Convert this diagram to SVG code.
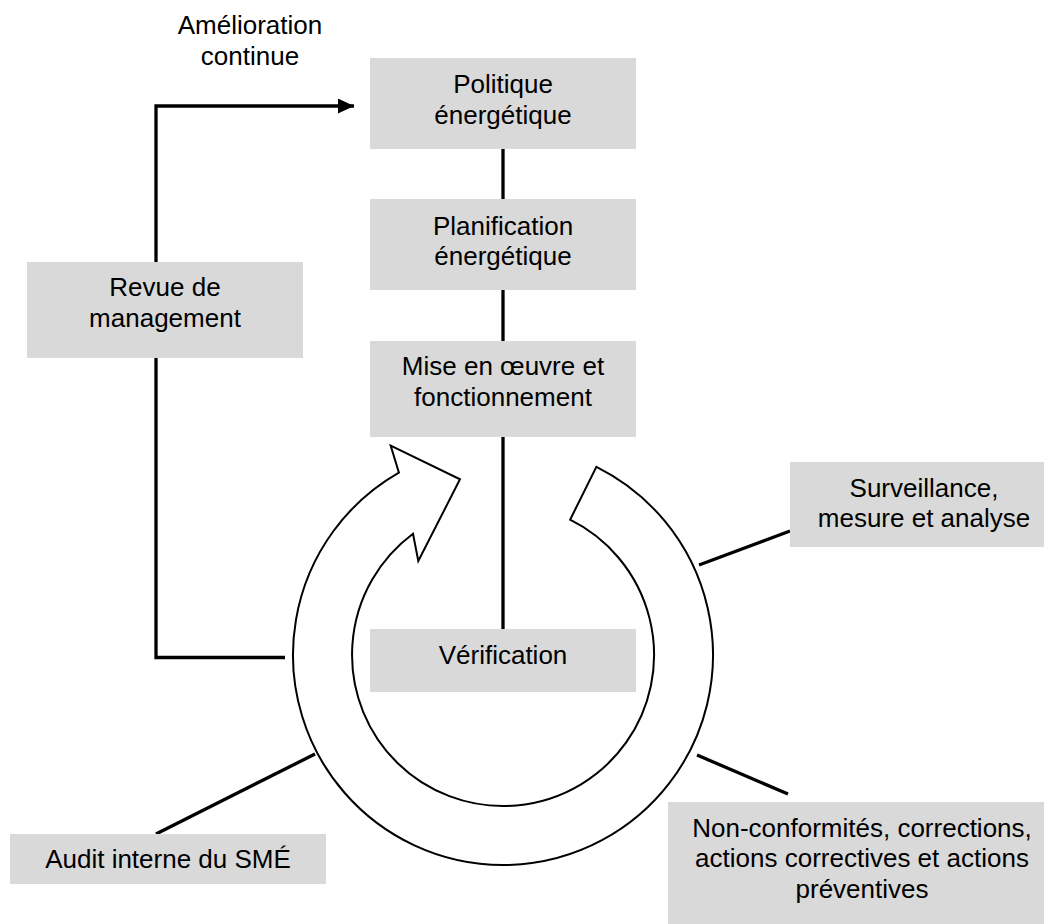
<svg xmlns="http://www.w3.org/2000/svg" width="1044" height="924" viewBox="0 0 1044 924">
<style>
.box{fill:#d9d9d9;stroke:none}
.t{font-family:"Liberation Sans",Arial,sans-serif;font-size:26px;fill:#000;text-anchor:middle}
.c{fill:none;stroke:#000;stroke-width:3.3}
.ring{fill:#fff;stroke:#000;stroke-width:2;stroke-linejoin:miter}
</style>
<defs>
<marker id="ah" markerUnits="userSpaceOnUse" markerWidth="17" markerHeight="16" refX="16" refY="7.5" orient="auto">
<path d="M0,0 L16,7.5 L0,15 Z" fill="#000"/>
</marker>
</defs>
<rect width="1044" height="924" fill="#fff"/>
<g id="connectors">
<polyline class="c" points="156,262 156,106 354,106" marker-end="url(#ah)"/>
<polyline class="c" points="156,358 156,657.5 285,657.5"/>
<line class="c" x1="503" y1="149" x2="503" y2="199"/>
<line class="c" x1="503" y1="290" x2="503" y2="341"/>
<line class="c" x1="503" y1="437" x2="503" y2="630"/>
<line class="c" x1="699" y1="565" x2="790" y2="531"/>
<line class="c" x1="697" y1="755" x2="788" y2="794"/>
<line class="c" x1="156" y1="834" x2="315" y2="754"/>
</g>
<g id="cycle">
<path class="ring" d="M398.9,472.6 A210,210 0 1 0 596.4,466.9 L570.1,519.7 A151,151 0 1 1 413,533.8 L418.3,561 L460,479.3 L390.7,445.7 Z"/>
</g>
<g id="amelioration">
<text class="t" x="250" y="34">Amélioration</text>
<text class="t" x="250" y="65">continue</text>
</g>
<g id="politique">
<rect class="box" x="370" y="58" width="266" height="91"/>
<text class="t" x="503" y="93">Politique</text>
<text class="t" x="503" y="123.5">énergétique</text>
</g>
<g id="planification">
<rect class="box" x="370" y="199" width="266" height="91"/>
<text class="t" x="503" y="234.5">Planification</text>
<text class="t" x="503" y="265">énergétique</text>
</g>
<g id="mise">
<rect class="box" x="370" y="341" width="266" height="96"/>
<text class="t" x="503" y="375">Mise en œuvre et</text>
<text class="t" x="503" y="405.5">fonctionnement</text>
</g>
<g id="verification">
<rect class="box" x="370" y="629" width="266" height="63"/>
<text class="t" x="503" y="664">Vérification</text>
</g>
<g id="revue">
<rect class="box" x="27" y="262" width="276" height="96"/>
<text class="t" x="165" y="296">Revue de</text>
<text class="t" x="165" y="327">management</text>
</g>
<g id="surveillance">
<rect class="box" x="790" y="462" width="268" height="85"/>
<text class="t" x="924" y="497">Surveillance,</text>
<text class="t" x="924" y="527">mesure et analyse</text>
</g>
<g id="nonconf">
<rect class="box" x="668" y="802" width="390" height="130"/>
<text class="t" x="862" y="836.5">Non-conformités, corrections,</text>
<text class="t" x="862" y="867">actions correctives et actions</text>
<text class="t" x="862" y="897.5">préventives</text>
</g>
<g id="audit">
<rect class="box" x="10" y="834" width="316" height="50"/>
<text class="t" x="168" y="868">Audit interne du SMÉ</text>
</g>
</svg>
